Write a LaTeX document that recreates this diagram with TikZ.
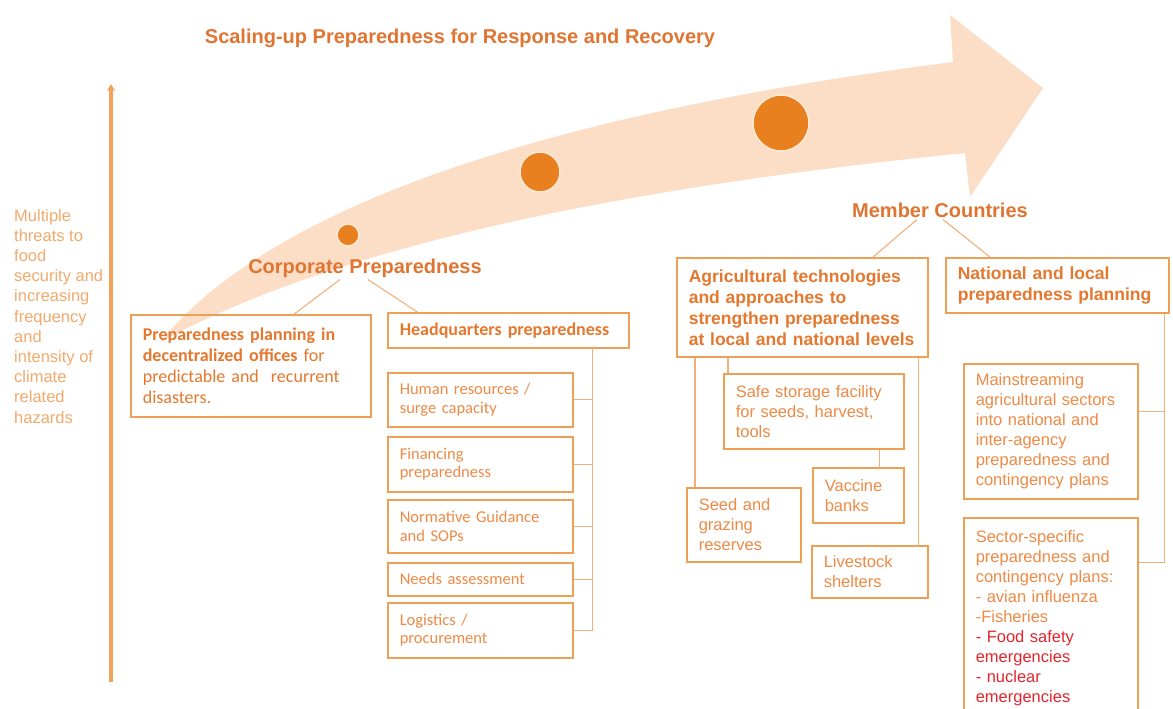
\documentclass[tikz,border=0pt]{standalone}
\usepackage{fontspec}
\setmainfont{Liberation Sans}
\newfontfamily\carlito{Carlito}
\usetikzlibrary{calc}
\usetikzlibrary{arrows.meta}
\definecolor{hdrc}{HTML}{E07532}
\definecolor{boldc}{HTML}{E4782E}
\definecolor{regc}{HTML}{EE8A45}
\definecolor{leftc}{HTML}{F2AA6C}
\definecolor{boxc}{HTML}{F0A055}
\definecolor{connc}{HTML}{F2B07A}
\definecolor{vlinec}{HTML}{F1A35C}
\definecolor{peach}{HTML}{FCDDC6}
\definecolor{dotc}{HTML}{E8801F}
\definecolor{dotring}{HTML}{FFEAD6}
\definecolor{redc}{HTML}{E3262E}

\begin{document}
\begin{tikzpicture}[x=1pt,y=-1pt,
  box/.style={draw=boxc, line width=1.6pt, anchor=north west, align=left, inner xsep=12pt, inner ysep=2pt},
  hdr/.style={text=hdrc, font=\bfseries\fontsize{20}{24}\selectfont, inner sep=2pt},
  cbold/.style={text=boldc, font=\carlito\bfseries\fontsize{18}{21}\selectfont},
  creg/.style={text=regc, font=\carlito\fontsize{16.5}{18.5}\selectfont},
  abold/.style={text=boldc, font=\bfseries\fontsize{17.5}{21}\selectfont},
  areg/.style={text=regc, font=\fontsize{16.5}{20}\selectfont},
  conn/.style={draw=connc, line width=1.1pt},
  dot/.style={circle, fill=dotc, draw=dotring, line width=1.5pt, inner sep=0pt},
  >=Stealth]
\fill[white] (0,0) rectangle (1173,709);
\clip (0,0) rectangle (1173,709);

\fill[peach] (160,342) .. controls (260,220) and (500,120) .. (953,62) -- (950,15) -- (1043,88)
  -- (970,197) -- (965,153) .. controls (600,190) and (330,250) .. (160,342) -- cycle;
\node[dot, minimum size=22pt] (c1) at (348,235) {};
\node[dot, minimum size=40pt] (c2) at (540,172) {};
\node[dot, minimum size=56pt] (c3) at (781,123) {};

\node[hdr] (title) at (460,38) {Scaling-up Preparedness for Response and Recovery};

\coordinate (vtop) at (111,84);
\coordinate (vbot) at (111,682);
\draw[draw=vlinec, line width=3.5pt, -{Stealth[length=7pt,width=8pt]}] (vbot) -- (vtop);
\node[text=leftc, font=\fontsize{16.5}{20.2}\selectfont, align=left, anchor=north west, inner sep=0pt] (threats) at (14,209)
  {Multiple\\threats to\\food\\security and\\increasing\\frequency\\and\\intensity of\\climate\\related\\hazards};

\node[hdr] (cp) at (365,268) {Corporate Preparedness};
\node[box, cbold, text width=216pt, minimum height=102pt] (pp) at (130,314)
  {Preparedness planning in\\decentralized offices {\mdseries for}\\{\mdseries predictable and \ recurrent}\\{\mdseries disasters.}};
\node[box, cbold, text width=217pt, minimum height=35pt] (hq) at (387,312) {Headquarters preparedness};
\node[box, creg, text width=161pt, minimum height=54pt] (hr) at (387,372) {Human resources /\\surge capacity};
\node[box, creg, text width=161pt, minimum height=55pt] (fin) at (387,436) {Financing\\preparedness};
\node[box, creg, text width=161pt, minimum height=53pt] (norm) at (387,499) {Normative Guidance\\and SOPs};
\node[box, creg, text width=161pt, minimum height=33pt] (needs) at (387,562) {Needs assessment};
\node[box, creg, text width=161pt, minimum height=55pt] (log) at (387,602) {Logistics /\\procurement};

\draw[conn] ($(cp.south)+(-25,0)$) -- ($(pp.north west)!0.68!(pp.north east)$);
\draw[conn] ($(cp.south)+(3,0)$) -- ($(hq.north west)!0.125!(hq.north east)$);
\coordinate (hqt) at ($(hq.south west)!0.846!(hq.south east)$);
\draw[conn] (hqt) |- (log.east);
\foreach \n in {hr,fin,norm,needs}
  \draw[conn] (\n.east) -- (\n.east -| hqt);

\node[hdr] (mc) at (940,210) {Member Countries};
\node[box, abold, text width=227pt, minimum height=99pt] (agri) at (676,257)
  {Agricultural technologies\\and approaches to\\strengthen preparedness\\at local and national levels};
\node[box, abold, text width=199pt, minimum height=55pt] (nat) at (945,257)
  {National and local\\preparedness planning};
\node[box, areg, text width=156pt, minimum height=75pt] (safe) at (723,373) {Safe storage facility\\for seeds, harvest,\\tools};
\node[box, areg, text width=67pt, minimum height=55pt] (vacc) at (812,467) {Vaccine\\banks};
\node[box, areg, text width=90pt, minimum height=74pt] (seed) at (686,487) {Seed and\\grazing\\reserves};
\node[box, areg, text width=92pt, minimum height=52pt] (live) at (811,545) {Livestock\\shelters};
\node[box, areg, text width=150pt, minimum height=135pt] (main) at (963,363)
  {Mainstreaming\\agricultural sectors\\into national and\\inter-agency\\preparedness and\\contingency plans};
\node[box, areg, text width=150pt, minimum height=200pt] (sec) at (963,517)
  {Sector-specific\\preparedness and\\contingency plans:\\- avian influenza\\-Fisheries\\\textcolor{redc}{- Food safety}\\\textcolor{redc}{emergencies}\\\textcolor{redc}{- nuclear}\\\textcolor{redc}{emergencies}};

\draw[conn] ($(mc.south)+(-23,0)$) -- ($(agri.north west)!0.78!(agri.north east)$);
\draw[conn] ($(mc.south)+(3,0)$) -- ($(nat.north west)!0.2!(nat.north east)$);
\draw[conn] ([xshift=9pt]seed.north west) -- ([xshift=9pt]seed.north west |- agri.south);
\draw[conn] ([xshift=5pt]safe.north west) -- ([xshift=5pt]safe.north west |- agri.south);
\draw[conn] ([xshift=-10pt]live.north east) -- ([xshift=-10pt]live.north east |- agri.south);
\draw[conn] ([xshift=-25pt]vacc.north east) -- ([xshift=-25pt]vacc.north east |- safe.south);
\coordinate (nt) at ([xshift=-5pt]nat.south east);
\draw[conn] (nt) |- ([yshift=55pt]sec.east);
\draw[conn] ([yshift=20pt]main.east) -- ([yshift=20pt]main.east -| nt);
\end{tikzpicture}
\end{document}
